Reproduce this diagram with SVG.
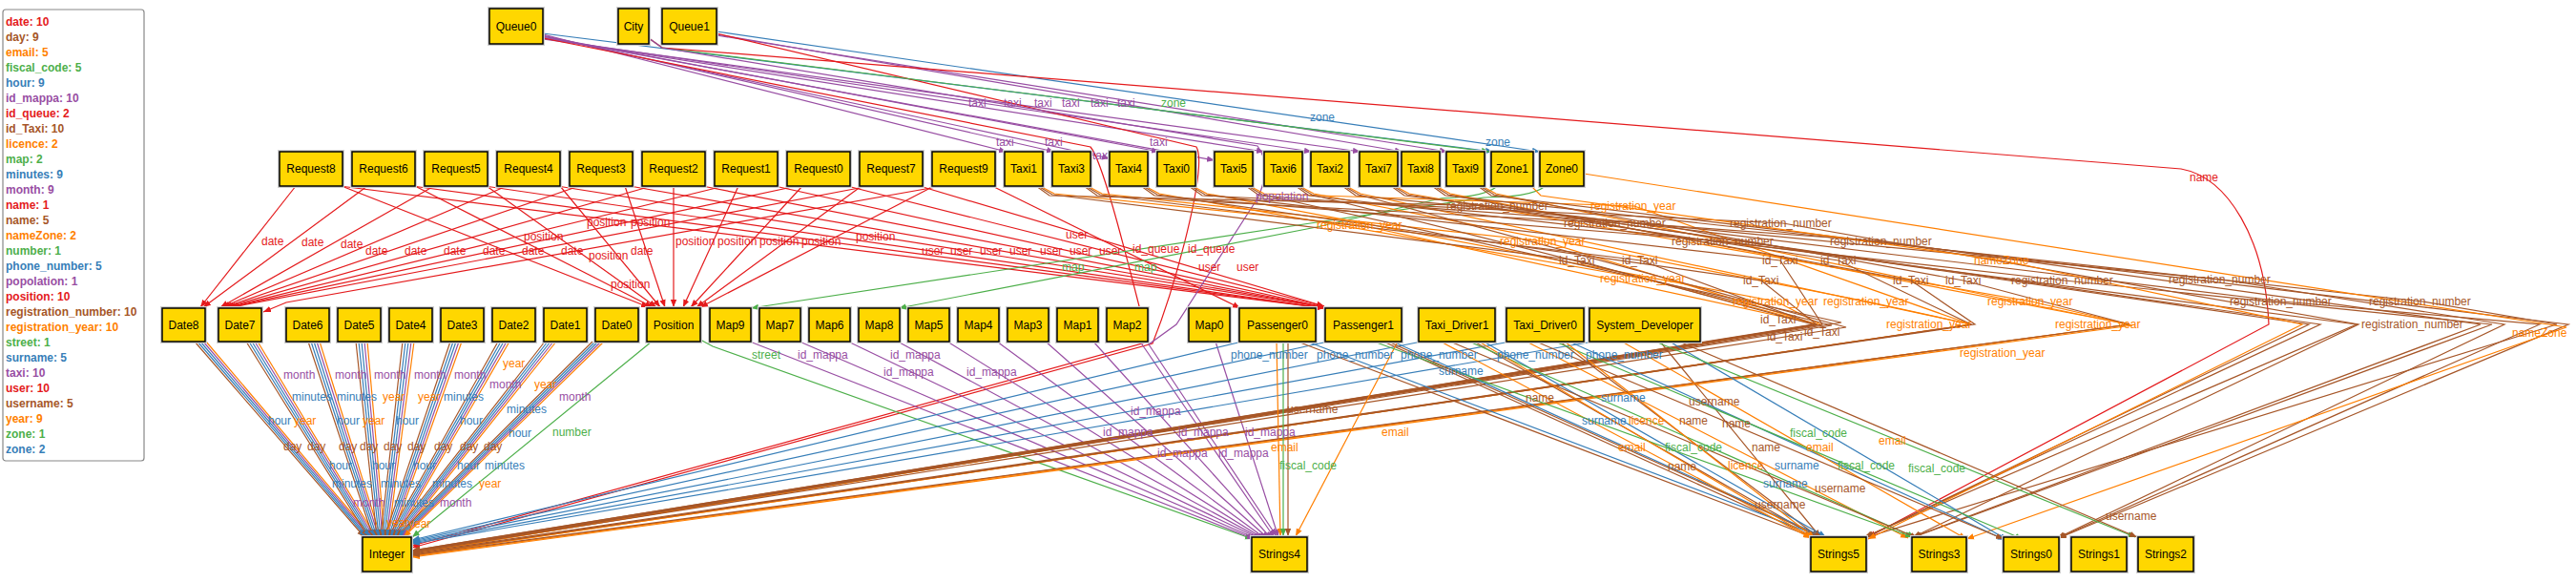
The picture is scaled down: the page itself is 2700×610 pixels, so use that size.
<svg xmlns="http://www.w3.org/2000/svg" width="2700" height="610" viewBox="0 0 2700 610">
<defs>
<style>
.e{fill:none;stroke-width:1.2}
.r{stroke:#e41a1c;marker-end:url(#mr)}
.b{stroke:#377eb8;marker-end:url(#mb)}
.g{stroke:#4daf4a;marker-end:url(#mg)}
.p{stroke:#984ea3;marker-end:url(#mp)}
.o{stroke:#ff7f00;marker-end:url(#mo)}
.n{stroke:#a65628;marker-end:url(#mn)}
.lab text{font-family:"Liberation Sans",Arial,sans-serif;font-size:12px}
.tr{fill:#e41a1c}.tb{fill:#377eb8}.tg{fill:#4daf4a}.tp{fill:#984ea3}.to{fill:#ff7f00}.tn{fill:#a65628}
.node rect.box{fill:#ffd700;stroke:#000;stroke-width:1.5}
.node rect.halo{fill:none;stroke:#d0d0d0;stroke-width:2}
.node text{font-family:"Liberation Sans",Arial,sans-serif;font-size:12px;fill:#000;text-anchor:middle}
.leg text{font-family:"Liberation Sans",Arial,sans-serif;font-size:12px;font-weight:bold}
</style>
<marker id="mr" viewBox="0 0 10 10" refX="10" refY="5" markerWidth="8" markerHeight="8" markerUnits="userSpaceOnUse" orient="auto"><path d="M0,1L10,5L0,9z" fill="#e41a1c"/></marker>
<marker id="mb" viewBox="0 0 10 10" refX="10" refY="5" markerWidth="8" markerHeight="8" markerUnits="userSpaceOnUse" orient="auto"><path d="M0,1L10,5L0,9z" fill="#377eb8"/></marker>
<marker id="mg" viewBox="0 0 10 10" refX="10" refY="5" markerWidth="8" markerHeight="8" markerUnits="userSpaceOnUse" orient="auto"><path d="M0,1L10,5L0,9z" fill="#4daf4a"/></marker>
<marker id="mp" viewBox="0 0 10 10" refX="10" refY="5" markerWidth="8" markerHeight="8" markerUnits="userSpaceOnUse" orient="auto"><path d="M0,1L10,5L0,9z" fill="#984ea3"/></marker>
<marker id="mo" viewBox="0 0 10 10" refX="10" refY="5" markerWidth="8" markerHeight="8" markerUnits="userSpaceOnUse" orient="auto"><path d="M0,1L10,5L0,9z" fill="#ff7f00"/></marker>
<marker id="mn" viewBox="0 0 10 10" refX="10" refY="5" markerWidth="8" markerHeight="8" markerUnits="userSpaceOnUse" orient="auto"><path d="M0,1L10,5L0,9z" fill="#a65628"/></marker>
</defs>
<rect x="0" y="0" width="2700" height="610" fill="#fff"/>

<g id="legend" class="leg">
<rect x="3" y="10" width="148" height="473" rx="3" fill="#fff" stroke="#888" stroke-width="1.2"/>
<text x="6" y="27" class="tr">date: 10</text>
<text x="6" y="43" class="tn">day: 9</text>
<text x="6" y="59" class="to">email: 5</text>
<text x="6" y="75" class="tg">fiscal_code: 5</text>
<text x="6" y="91" class="tb">hour: 9</text>
<text x="6" y="107" class="tp">id_mappa: 10</text>
<text x="6" y="123" class="tr">id_queue: 2</text>
<text x="6" y="139" class="tn">id_Taxi: 10</text>
<text x="6" y="155" class="to">licence: 2</text>
<text x="6" y="171" class="tg">map: 2</text>
<text x="6" y="187" class="tb">minutes: 9</text>
<text x="6" y="203" class="tp">month: 9</text>
<text x="6" y="219" class="tr">name: 1</text>
<text x="6" y="235" class="tn">name: 5</text>
<text x="6" y="251" class="to">nameZone: 2</text>
<text x="6" y="267" class="tg">number: 1</text>
<text x="6" y="283" class="tb">phone_number: 5</text>
<text x="6" y="299" class="tp">popolation: 1</text>
<text x="6" y="315" class="tr">position: 10</text>
<text x="6" y="331" class="tn">registration_number: 10</text>
<text x="6" y="347" class="to">registration_year: 10</text>
<text x="6" y="363" class="tg">street: 1</text>
<text x="6" y="379" class="tb">surname: 5</text>
<text x="6" y="395" class="tp">taxi: 10</text>
<text x="6" y="411" class="tr">user: 10</text>
<text x="6" y="427" class="tn">username: 5</text>
<text x="6" y="443" class="to">year: 9</text>
<text x="6" y="459" class="tg">zone: 1</text>
<text x="6" y="475" class="tb">zone: 2</text>
</g>

<g id="edges">
<!-- Request date -->
<path class="e r" d="M310,195L210,322"/>
<path class="e r" d="M385,195L213,322"/>
<path class="e r" d="M455,195L231,322"/>
<path class="e r" d="M531,195L233,322"/>
<path class="e r" d="M607,195L235,322"/>
<path class="e r" d="M683,195L237,322"/>
<path class="e r" d="M759,195L239,322"/>
<path class="e r" d="M835,195L241,322"/>
<path class="e r" d="M911,195L243,322"/>
<path class="e r" d="M987,195L300,317L276,327"/>
<!-- Request position -->
<path class="e r" d="M358,195L680,322"/>
<path class="e r" d="M435,195L684,322"/>
<path class="e r" d="M510,195L688,322"/>
<path class="e r" d="M587,195L692,322"/>
<path class="e r" d="M655,195L697,322"/>
<path class="e r" d="M706,195L706,322"/>
<path class="e r" d="M774,195L716,322"/>
<path class="e r" d="M841,195L724,322"/>
<path class="e r" d="M903,195L730,322"/>
<path class="e r" d="M979,195L734,322"/>
<!-- Request user -->
<path class="e r" d="M356,195L1388,323"/>
<path class="e r" d="M432,195L1388,323"/>
<path class="e r" d="M508,195L1388,323"/>
<path class="e r" d="M584,195L1388,322"/>
<path class="e r" d="M660,195L1388,322"/>
<path class="e r" d="M736,195L1388,322"/>
<path class="e r" d="M812,195L1388,322"/>
<path class="e r" d="M888,195L1388,321"/>
<path class="e r" d="M964,195L1388,321"/>
<path class="e r" d="M1040,195L1300,323"/>
<!-- Queue taxi -->
<path class="e p" d="M569,36L1055,159"/>
<path class="e p" d="M569,37L1105,159"/>
<path class="e p" d="M569,38L1163,166"/>
<path class="e p" d="M569,38L1215,159"/>
<path class="e p" d="M569,39L1273,168"/>
<path class="e p" d="M569,40L1325,159"/>
<path class="e p" d="M569,40L1375,159"/>
<path class="e p" d="M569,41L1426,159"/>
<path class="e p" d="M751,36L1470,159"/>
<path class="e p" d="M751,37L1517,159"/>
<!-- Queue zone -->
<path class="e b" d="M751,33L1614,159"/>
<path class="e b" d="M569,35L1565,159"/>
<!-- Queue id_queue -->
<path class="e r" d="M569,40L1143,154C1160,175 1195,330 1204,358L432,572"/>
<path class="e r" d="M751,35L1254,154C1266,175 1232,300 1208,360L432,574"/>
<!-- City -->
<path class="e g" d="M680,40L694,50L1561,159"/>
<path class="e r" d="M680,40L694,50L2286,177C2335,186 2374,250 2378,340L1958,563"/>
<path class="e p" d="M680,40L694,50L1318,153C1330,168 1326,192 1318,208L1233,340L1204,361L1338,562"/>
<!-- Zone map -->
<path class="e g" d="M1620,195C1605,206 1580,206 1555,207L1380,233L787,323"/>
<path class="e g" d="M1570,195C1555,206 1530,207 1510,208L1380,238L942,323"/>
<!-- Position -->
<path class="e g" d="M683,358L432,563"/>
<path class="e g" d="M734,356L747,363L1313,565"/>
<!-- Map id_mappa -->
<path class="e p" d="M786,358L1315,565"/>
<path class="e p" d="M838,358L1318,565"/>
<path class="e p" d="M889,358L1321,565"/>
<path class="e p" d="M941,358L1323,565"/>
<path class="e p" d="M993,358L1325,565"/>
<path class="e p" d="M1045,358L1327,565"/>
<path class="e p" d="M1096,358L1330,565"/>
<path class="e p" d="M1146,358L1333,565"/>
<path class="e p" d="M1195,358L1336,564"/>
<path class="e p" d="M1274,358L1340,563"/>
<!-- Date to Integer -->
<path class="e n" d="M204,358L382,563"/><path class="e b" d="M207,358L384,563"/><path class="e b" d="M210,358L386,563"/><path class="e p" d="M213,358L388,563"/><path class="e o" d="M216,358L390,563"/>
<path class="e n" d="M258,358L386,563"/><path class="e b" d="M261,358L388,563"/><path class="e b" d="M264,358L390,563"/><path class="e p" d="M267,358L392,563"/><path class="e o" d="M270,358L394,563"/>
<path class="e n" d="M323,358L391,563"/><path class="e b" d="M326,358L393,563"/><path class="e b" d="M329,358L395,563"/><path class="e p" d="M332,358L397,563"/><path class="e o" d="M335,358L399,563"/>
<path class="e n" d="M373,358L395,563"/><path class="e b" d="M376,358L397,563"/><path class="e b" d="M379,358L399,563"/><path class="e p" d="M382,358L401,563"/><path class="e o" d="M385,358L403,563"/>
<path class="e n" d="M422,358L399,563"/><path class="e b" d="M425,358L401,563"/><path class="e b" d="M428,358L403,563"/><path class="e p" d="M431,358L405,563"/><path class="e o" d="M434,358L407,563"/>
<path class="e n" d="M472,358L403,563"/><path class="e b" d="M475,358L405,563"/><path class="e b" d="M478,358L407,563"/><path class="e p" d="M481,358L409,563"/><path class="e o" d="M484,358L411,563"/>
<path class="e n" d="M522,358L407,563"/><path class="e b" d="M525,358L409,563"/><path class="e b" d="M528,358L411,563"/><path class="e p" d="M531,358L413,563"/><path class="e o" d="M534,358L415,563"/>
<path class="e n" d="M571,358L411,563"/><path class="e b" d="M574,358L413,563"/><path class="e b" d="M577,358L415,563"/><path class="e p" d="M580,358L417,563"/><path class="e o" d="M583,358L419,563"/>
<path class="e n" d="M621,358L415,563"/><path class="e b" d="M624,358L417,563"/><path class="e b" d="M627,358L419,563"/><path class="e p" d="M630,358L421,563"/><path class="e o" d="M633,358L423,563"/>
<!-- Taxi registration_year -->
<path class="e o" d="M1090,195L1105,203L1426,236L1905,340L432,579"/>
<path class="e o" d="M1140,195L1155,203L1618,253L1905,340L432,579"/>
<path class="e o" d="M1200,195L1215,203L1723,292L1905,340L432,580"/>
<path class="e o" d="M1250,195L1265,203L1862,316L1908,340L432,580"/>
<path class="e o" d="M1310,195L1325,203L1713,216L2066,340L432,581"/>
<path class="e o" d="M1362,195L1377,203L1957,316L2066,340L432,582"/>
<path class="e o" d="M1411,195L1426,203L2066,340L432,582"/>
<path class="e o" d="M1462,195L1477,203L2129,316L2232,340L432,583"/>
<path class="e o" d="M1505,195L1520,203L2232,340L432,583"/>
<path class="e o" d="M1553,195L1568,203L2235,341L432,584"/>
<!-- Taxi id_Taxi -->
<path class="e n" d="M1088,195L1103,204L1654,273L1900,340L432,577"/>
<path class="e n" d="M1138,195L1153,204L1720,273L1902,340L432,577"/>
<path class="e n" d="M1198,195L1213,204L1846,294L1904,340L432,578"/>
<path class="e n" d="M1248,195L1263,204L1866,273L1910,340L432,578"/>
<path class="e n" d="M1308,195L1323,204L1930,338L432,578"/>
<path class="e n" d="M1360,195L1375,204L1920,341L432,578"/>
<path class="e n" d="M1409,195L1424,204L1935,343L432,579"/>
<path class="e n" d="M1460,195L1475,204L1927,273L2066,340L432,580"/>
<path class="e n" d="M1503,195L1518,204L2003,294L2070,340L432,581"/>
<path class="e n" d="M1551,195L1566,204L2058,294L2232,340L432,582"/>
<!-- Taxi registration_number -->
<path class="e n" d="M1086,195L1100,205L1572,216L2420,340L1956,563"/>
<path class="e n" d="M1136,195L1150,205L1695,234L2432,340L1955,563"/>
<path class="e n" d="M1196,195L1210,205L1808,253L2470,340L1954,563"/>
<path class="e n" d="M1246,195L1260,205L1869,234L2472,340L2005,563"/>
<path class="e n" d="M1306,195L1320,205L1974,253L2600,340L2005,563"/>
<path class="e n" d="M1358,195L1372,205L2164,294L2612,340L2006,563"/>
<path class="e n" d="M1407,195L1421,205L2329,293L2625,340L2156,564"/>
<path class="e n" d="M1458,195L1472,205L2393,316L2662,340L2157,564"/>
<path class="e n" d="M1501,195L1515,205L2539,316L2680,340L1957,563"/>
<path class="e n" d="M1549,195L1563,205L2692,340L2158,564"/>
<!-- Zone nameZone -->
<path class="e o" d="M1605,195L1615,205L2099,273L2413,340L1958,565"/>
<path class="e o" d="M1660,182L2690,343L2061,565"/>
<!-- persons phone_number -->
<path class="e b" d="M1302,358L432,566"/>
<path class="e b" d="M1392,358L432,567"/>
<path class="e b" d="M1490,358L432,568"/>
<path class="e b" d="M1583,358L432,569"/>
<path class="e b" d="M1670,358L432,570"/>
<!-- name -->
<path class="e n" d="M1360,358L1900,563"/>
<path class="e n" d="M1450,358L1902,563"/>
<path class="e n" d="M1545,358L1904,563"/>
<path class="e n" d="M1635,358L1906,563"/>
<path class="e n" d="M1740,358L1908,563"/>
<!-- surname -->
<path class="e b" d="M1370,358L1910,563"/>
<path class="e b" d="M1460,358L1912,563"/>
<path class="e b" d="M1555,358L1914,563"/>
<path class="e b" d="M1645,358L2102,566"/>
<path class="e b" d="M1750,358L2104,566"/>
<!-- email -->
<path class="e o" d="M1338,358L1342,562"/>
<path class="e o" d="M1465,358L1358,562"/>
<path class="e o" d="M1510,358L1898,564"/>
<path class="e o" d="M1600,358L2000,564"/>
<path class="e o" d="M1700,358L2061,565"/>
<!-- fiscal_code -->
<path class="e g" d="M1345,358L1345,562"/>
<path class="e g" d="M1440,358L2005,563"/>
<path class="e g" d="M1540,358L2007,563"/>
<path class="e g" d="M1630,358L2120,565"/>
<path class="e g" d="M1735,358L2238,563"/>
<!-- username -->
<path class="e n" d="M1350,358L1350,562"/>
<path class="e n" d="M1455,358L1910,563"/>
<path class="e n" d="M1520,358L2010,564"/>
<path class="e n" d="M1610,358L2100,565"/>
<path class="e n" d="M1760,358L2240,563"/>
<!-- licence -->
<path class="e o" d="M1550,358L1900,564"/>
<path class="e o" d="M1640,358L1902,564"/>
</g>

<g id="edge-labels" class="lab">
<g class="tr">
<text x="274" y="257">date</text><text x="316" y="258">date</text><text x="357" y="260">date</text><text x="383" y="267">date</text><text x="424" y="267">date</text><text x="465" y="267">date</text><text x="506" y="267">date</text><text x="547" y="267">date</text><text x="588" y="267">date</text><text x="661" y="267">date</text>
<text x="615" y="237">position</text><text x="661" y="237">position</text><text x="549" y="252">position</text><text x="617" y="272">position</text><text x="640" y="302">position</text><text x="708" y="257">position</text><text x="752" y="257">position</text><text x="796" y="257">position</text><text x="840" y="257">position</text><text x="897" y="252">position</text>
<text x="1117" y="250">user</text><text x="966" y="267">user</text><text x="996" y="267">user</text><text x="1027" y="267">user</text><text x="1058" y="267">user</text><text x="1090" y="267">user</text><text x="1121" y="267">user</text><text x="1152" y="267">user</text><text x="1256" y="284">user</text><text x="1296" y="284">user</text>
<text x="1187" y="265">id_queue</text><text x="1245" y="265">id_queue</text>
<text x="2295" y="190">name</text>
</g>
<g class="tp">
<text x="297" y="397">month</text><text x="351" y="397">month</text><text x="392" y="397">month</text><text x="434" y="397">month</text><text x="476" y="397">month</text><text x="513" y="407">month</text><text x="586" y="420">month</text><text x="370" y="531">month</text><text x="461" y="531">month</text>
<text x="836" y="376">id_mappa</text><text x="933" y="376">id_mappa</text><text x="926" y="394">id_mappa</text><text x="1013" y="394">id_mappa</text><text x="1185" y="435">id_mappa</text><text x="1156" y="457">id_mappa</text><text x="1235" y="457">id_mappa</text><text x="1305" y="457">id_mappa</text><text x="1213" y="479">id_mappa</text><text x="1277" y="479">id_mappa</text>
<text x="1015" y="112">taxi</text><text x="1052" y="112">taxi</text><text x="1084" y="112">taxi</text><text x="1113" y="112">taxi</text><text x="1143" y="112">taxi</text><text x="1171" y="112">taxi</text><text x="1044" y="153">taxi</text><text x="1095" y="153">taxi</text><text x="1145" y="167">taxi</text><text x="1205" y="153">taxi</text>
<text x="1316" y="210">popolation</text>
</g>
<g class="tb">
<text x="306" y="420">minutes</text><text x="353" y="420">minutes</text><text x="465" y="420">minutes</text><text x="531" y="433">minutes</text><text x="508" y="492">minutes</text><text x="348" y="511">minutes</text><text x="399" y="511">minutes</text><text x="453" y="511">minutes</text><text x="413" y="531">minutes</text>
<text x="281" y="445">hour</text><text x="353" y="445">hour</text><text x="415" y="445">hour</text><text x="482" y="445">hour</text><text x="533" y="458">hour</text><text x="345" y="492">hour</text><text x="390" y="492">hour</text><text x="433" y="492">hour</text><text x="479" y="492">hour</text>
<text x="1373" y="127">zone</text><text x="1557" y="153">zone</text>
<text x="1290" y="376">phone_number</text><text x="1380" y="376">phone_number</text><text x="1468" y="376">phone_number</text><text x="1569" y="376">phone_number</text><text x="1662" y="376">phone_number</text>
<text x="1508" y="393">surname</text><text x="1678" y="421">surname</text><text x="1658" y="445">surname</text><text x="1860" y="492">surname</text><text x="1848" y="511">surname</text>
</g>
<g class="to">
<text x="308" y="445">year</text><text x="380" y="445">year</text><text x="401" y="420">year</text><text x="438" y="420">year</text><text x="527" y="385">year</text><text x="560" y="407">year</text><text x="502" y="511">year</text><text x="405" y="552">year</text><text x="428" y="553">year</text>
<text x="1667" y="220">registration_year</text><text x="1380" y="240">registration_year</text><text x="1572" y="257">registration_year</text><text x="1677" y="296">registration_year</text><text x="1816" y="320">registration_year</text><text x="1911" y="320">registration_year</text><text x="2083" y="320">registration_year</text><text x="1977" y="344">registration_year</text><text x="2154" y="344">registration_year</text><text x="2054" y="374">registration_year</text>
<text x="2069" y="277">nameZone</text><text x="2633" y="353">nameZone</text>
<text x="1332" y="473">email</text><text x="1448" y="457">email</text><text x="1696" y="473">email</text><text x="1893" y="473">email</text><text x="1969" y="466">email</text>
<text x="1707" y="445">licence</text><text x="1811" y="492">licence</text>
</g>
<g class="tn">
<text x="297" y="472">day</text><text x="322" y="472">day</text><text x="355" y="472">day</text><text x="377" y="472">day</text><text x="402" y="472">day</text><text x="427" y="472">day</text><text x="455" y="472">day</text><text x="482" y="472">day</text><text x="507" y="472">day</text>
<text x="1516" y="220">registration_number</text><text x="1639" y="238">registration_number</text><text x="1813" y="238">registration_number</text><text x="1752" y="257">registration_number</text><text x="1918" y="257">registration_number</text><text x="2108" y="298">registration_number</text><text x="2273" y="297">registration_number</text><text x="2337" y="320">registration_number</text><text x="2483" y="320">registration_number</text><text x="2475" y="344">registration_number</text>
<text x="1634" y="277">id_Taxi</text><text x="1700" y="277">id_Taxi</text><text x="1847" y="277">id_Taxi</text><text x="1908" y="277">id_Taxi</text><text x="1827" y="298">id_Taxi</text><text x="1984" y="298">id_Taxi</text><text x="2039" y="298">id_Taxi</text><text x="1845" y="339">id_Taxi</text><text x="1852" y="357">id_Taxi</text><text x="1891" y="352">id_Taxi</text>
<text x="1599" y="421">name</text><text x="1760" y="445">name</text><text x="1805" y="448">name</text><text x="1836" y="473">name</text><text x="1748" y="493">name</text>
<text x="1349" y="433">username</text><text x="1770" y="425">username</text><text x="1902" y="516">username</text><text x="1839" y="533">username</text><text x="2207" y="545">username</text>
</g>
<g class="tg">
<text x="579" y="457">number</text>
<text x="788" y="376">street</text>
<text x="1217" y="112">zone</text>
<text x="1113" y="284">map</text><text x="1189" y="284">map</text>
<text x="1341" y="492">fiscal_code</text><text x="1745" y="473">fiscal_code</text><text x="1876" y="458">fiscal_code</text><text x="1926" y="492">fiscal_code</text><text x="2000" y="495">fiscal_code</text>
</g>
</g>

<g id="nodes">
<g id="Queue0" class="node"><rect class="halo" x="512" y="8" width="58" height="39"/><rect class="box" x="513" y="9" width="56" height="37"/><text x="541" y="32">Queue0</text></g>
<g id="City" class="node"><rect class="halo" x="647" y="8" width="34" height="39"/><rect class="box" x="648" y="9" width="32" height="37"/><text x="664" y="32">City</text></g>
<g id="Queue1" class="node"><rect class="halo" x="693" y="8" width="59" height="39"/><rect class="box" x="694" y="9" width="57" height="37"/><text x="722.5" y="32">Queue1</text></g>

<g id="Request8" class="node"><rect class="halo" x="292" y="158" width="68" height="38"/><rect class="box" x="293" y="159" width="66" height="36"/><text x="326" y="181">Request8</text></g>
<g id="Request6" class="node"><rect class="halo" x="368" y="158" width="68" height="38"/><rect class="box" x="369" y="159" width="66" height="36"/><text x="402" y="181">Request6</text></g>
<g id="Request5" class="node"><rect class="halo" x="444" y="158" width="68" height="38"/><rect class="box" x="445" y="159" width="66" height="36"/><text x="478" y="181">Request5</text></g>
<g id="Request4" class="node"><rect class="halo" x="520" y="158" width="68" height="38"/><rect class="box" x="521" y="159" width="66" height="36"/><text x="554" y="181">Request4</text></g>
<g id="Request3" class="node"><rect class="halo" x="596" y="158" width="68" height="38"/><rect class="box" x="597" y="159" width="66" height="36"/><text x="630" y="181">Request3</text></g>
<g id="Request2" class="node"><rect class="halo" x="672" y="158" width="68" height="38"/><rect class="box" x="673" y="159" width="66" height="36"/><text x="706" y="181">Request2</text></g>
<g id="Request1" class="node"><rect class="halo" x="748" y="158" width="68" height="38"/><rect class="box" x="749" y="159" width="66" height="36"/><text x="782" y="181">Request1</text></g>
<g id="Request0" class="node"><rect class="halo" x="824" y="158" width="68" height="38"/><rect class="box" x="825" y="159" width="66" height="36"/><text x="858" y="181">Request0</text></g>
<g id="Request7" class="node"><rect class="halo" x="900" y="158" width="68" height="38"/><rect class="box" x="901" y="159" width="66" height="36"/><text x="934" y="181">Request7</text></g>
<g id="Request9" class="node"><rect class="halo" x="976" y="158" width="68" height="38"/><rect class="box" x="977" y="159" width="66" height="36"/><text x="1010" y="181">Request9</text></g>

<g id="Taxi1" class="node"><rect class="halo" x="1052" y="158" width="42" height="38"/><rect class="box" x="1053" y="159" width="40" height="36"/><text x="1073" y="181">Taxi1</text></g>
<g id="Taxi3" class="node"><rect class="halo" x="1102" y="158" width="42" height="38"/><rect class="box" x="1103" y="159" width="40" height="36"/><text x="1123" y="181">Taxi3</text></g>
<g id="Taxi4" class="node"><rect class="halo" x="1162" y="158" width="42" height="38"/><rect class="box" x="1163" y="159" width="40" height="36"/><text x="1183" y="181">Taxi4</text></g>
<g id="Taxi0" class="node"><rect class="halo" x="1212" y="158" width="42" height="38"/><rect class="box" x="1213" y="159" width="40" height="36"/><text x="1233" y="181">Taxi0</text></g>
<g id="Taxi5" class="node"><rect class="halo" x="1272" y="158" width="42" height="38"/><rect class="box" x="1273" y="159" width="40" height="36"/><text x="1293" y="181">Taxi5</text></g>
<g id="Taxi6" class="node"><rect class="halo" x="1324" y="158" width="42" height="38"/><rect class="box" x="1325" y="159" width="40" height="36"/><text x="1345" y="181">Taxi6</text></g>
<g id="Taxi2" class="node"><rect class="halo" x="1373" y="158" width="42" height="38"/><rect class="box" x="1374" y="159" width="40" height="36"/><text x="1394" y="181">Taxi2</text></g>
<g id="Taxi7" class="node"><rect class="halo" x="1424" y="158" width="42" height="38"/><rect class="box" x="1425" y="159" width="40" height="36"/><text x="1445" y="181">Taxi7</text></g>
<g id="Taxi8" class="node"><rect class="halo" x="1468" y="158" width="42" height="38"/><rect class="box" x="1469" y="159" width="40" height="36"/><text x="1489" y="181">Taxi8</text></g>
<g id="Taxi9" class="node"><rect class="halo" x="1515" y="158" width="42" height="38"/><rect class="box" x="1516" y="159" width="40" height="36"/><text x="1536" y="181">Taxi9</text></g>
<g id="Zone1" class="node"><rect class="halo" x="1562" y="158" width="46" height="38"/><rect class="box" x="1563" y="159" width="44" height="36"/><text x="1585" y="181">Zone1</text></g>
<g id="Zone0" class="node"><rect class="halo" x="1613" y="158" width="48" height="38"/><rect class="box" x="1614" y="159" width="46" height="36"/><text x="1637" y="181">Zone0</text></g>

<g id="Date8" class="node"><rect class="halo" x="169" y="322" width="47" height="37"/><rect class="box" x="170" y="323" width="45" height="35"/><text x="192.5" y="345">Date8</text></g>
<g id="Date7" class="node"><rect class="halo" x="228" y="322" width="47" height="37"/><rect class="box" x="229" y="323" width="45" height="35"/><text x="251.5" y="345">Date7</text></g>
<g id="Date6" class="node"><rect class="halo" x="299" y="322" width="47" height="37"/><rect class="box" x="300" y="323" width="45" height="35"/><text x="322.5" y="345">Date6</text></g>
<g id="Date5" class="node"><rect class="halo" x="353" y="322" width="47" height="37"/><rect class="box" x="354" y="323" width="45" height="35"/><text x="376.5" y="345">Date5</text></g>
<g id="Date4" class="node"><rect class="halo" x="407" y="322" width="47" height="37"/><rect class="box" x="408" y="323" width="45" height="35"/><text x="430.5" y="345">Date4</text></g>
<g id="Date3" class="node"><rect class="halo" x="461" y="322" width="47" height="37"/><rect class="box" x="462" y="323" width="45" height="35"/><text x="484.5" y="345">Date3</text></g>
<g id="Date2" class="node"><rect class="halo" x="515" y="322" width="47" height="37"/><rect class="box" x="516" y="323" width="45" height="35"/><text x="538.5" y="345">Date2</text></g>
<g id="Date1" class="node"><rect class="halo" x="569" y="322" width="47" height="37"/><rect class="box" x="570" y="323" width="45" height="35"/><text x="592.5" y="345">Date1</text></g>
<g id="Date0" class="node"><rect class="halo" x="623" y="322" width="47" height="37"/><rect class="box" x="624" y="323" width="45" height="35"/><text x="646.5" y="345">Date0</text></g>
<g id="Position" class="node"><rect class="halo" x="677" y="322" width="58" height="37"/><rect class="box" x="678" y="323" width="56" height="35"/><text x="706" y="345">Position</text></g>
<g id="Map9" class="node"><rect class="halo" x="743" y="322" width="45" height="37"/><rect class="box" x="744" y="323" width="43" height="35"/><text x="765.5" y="345">Map9</text></g>
<g id="Map7" class="node"><rect class="halo" x="795" y="322" width="45" height="37"/><rect class="box" x="796" y="323" width="43" height="35"/><text x="817.5" y="345">Map7</text></g>
<g id="Map6" class="node"><rect class="halo" x="847" y="322" width="45" height="37"/><rect class="box" x="848" y="323" width="43" height="35"/><text x="869.5" y="345">Map6</text></g>
<g id="Map8" class="node"><rect class="halo" x="899" y="322" width="45" height="37"/><rect class="box" x="900" y="323" width="43" height="35"/><text x="921.5" y="345">Map8</text></g>
<g id="Map5" class="node"><rect class="halo" x="951" y="322" width="45" height="37"/><rect class="box" x="952" y="323" width="43" height="35"/><text x="973.5" y="345">Map5</text></g>
<g id="Map4" class="node"><rect class="halo" x="1003" y="322" width="45" height="37"/><rect class="box" x="1004" y="323" width="43" height="35"/><text x="1025.5" y="345">Map4</text></g>
<g id="Map3" class="node"><rect class="halo" x="1055" y="322" width="45" height="37"/><rect class="box" x="1056" y="323" width="43" height="35"/><text x="1077.5" y="345">Map3</text></g>
<g id="Map1" class="node"><rect class="halo" x="1107" y="322" width="45" height="37"/><rect class="box" x="1108" y="323" width="43" height="35"/><text x="1129.5" y="345">Map1</text></g>
<g id="Map2" class="node"><rect class="halo" x="1159" y="322" width="45" height="37"/><rect class="box" x="1160" y="323" width="43" height="35"/><text x="1181.5" y="345">Map2</text></g>
<g id="Map0" class="node"><rect class="halo" x="1245" y="322" width="45" height="37"/><rect class="box" x="1246" y="323" width="43" height="35"/><text x="1267.5" y="345">Map0</text></g>
<g id="Passenger0" class="node"><rect class="halo" x="1298" y="322" width="82" height="37"/><rect class="box" x="1299" y="323" width="80" height="35"/><text x="1339" y="345">Passenger0</text></g>
<g id="Passenger1" class="node"><rect class="halo" x="1388" y="322" width="82" height="37"/><rect class="box" x="1389" y="323" width="80" height="35"/><text x="1429" y="345">Passenger1</text></g>
<g id="Taxi_Driver1" class="node"><rect class="halo" x="1486" y="322" width="82" height="37"/><rect class="box" x="1487" y="323" width="80" height="35"/><text x="1527" y="345">Taxi_Driver1</text></g>
<g id="Taxi_Driver0" class="node"><rect class="halo" x="1578" y="322" width="83" height="37"/><rect class="box" x="1579" y="323" width="81" height="35"/><text x="1619.5" y="345">Taxi_Driver0</text></g>
<g id="System_Developer" class="node"><rect class="halo" x="1665" y="322" width="118" height="37"/><rect class="box" x="1666" y="323" width="116" height="35"/><text x="1724" y="345">System_Developer</text></g>

<g id="Integer" class="node"><rect class="halo" x="379" y="562" width="53" height="38"/><rect class="box" x="380" y="563" width="51" height="36"/><text x="405.5" y="585">Integer</text></g>
<g id="Strings4" class="node"><rect class="halo" x="1311" y="562" width="60" height="38"/><rect class="box" x="1312" y="563" width="58" height="36"/><text x="1341" y="585">Strings4</text></g>
<g id="Strings5" class="node"><rect class="halo" x="1897" y="562" width="60" height="38"/><rect class="box" x="1898" y="563" width="58" height="36"/><text x="1927" y="585">Strings5</text></g>
<g id="Strings3" class="node"><rect class="halo" x="2003" y="562" width="59" height="38"/><rect class="box" x="2004" y="563" width="57" height="36"/><text x="2032.5" y="585">Strings3</text></g>
<g id="Strings0" class="node"><rect class="halo" x="2099" y="562" width="60" height="38"/><rect class="box" x="2100" y="563" width="58" height="36"/><text x="2129" y="585">Strings0</text></g>
<g id="Strings1" class="node"><rect class="halo" x="2170" y="562" width="60" height="38"/><rect class="box" x="2171" y="563" width="58" height="36"/><text x="2200" y="585">Strings1</text></g>
<g id="Strings2" class="node"><rect class="halo" x="2240" y="562" width="60" height="38"/><rect class="box" x="2241" y="563" width="58" height="36"/><text x="2270" y="585">Strings2</text></g>
</g>
</svg>
